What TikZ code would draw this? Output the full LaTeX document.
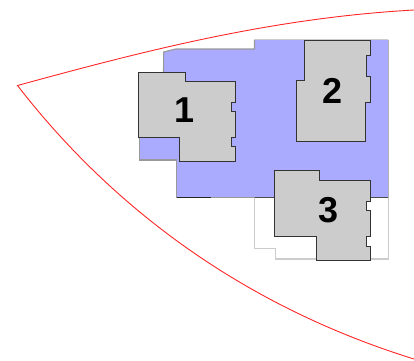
\documentclass[tikz,border=0pt]{standalone}
\usepackage{fontspec}
\setmainfont{Liberation Sans}
\definecolor{plotblue}{HTML}{AAAAFF}
\definecolor{blockgrey}{HTML}{CCCCCC}
\tikzset{bld/.append style={fill=blockgrey,draw=black!80,line width=1pt}}
\tikzset{num/.append style={font=\fontsize{36}{36}\selectfont\bfseries,inner sep=0pt}}
\tikzset{edgeg/.append style={line width=1.1pt,draw=black!40}}
\tikzset{edgel/.append style={line width=1.1pt,draw=black!20}}
\tikzset{bound/.append style={draw=red!85!white,line width=0.9pt}}
\begin{document}
\begin{tikzpicture}[x=1pt,y=-1pt]
                \useasboundingbox (0,0) rectangle (414,360);
                % plots
                \fill[plotblue] (163.5,72) -- (163.7,52) -- (175.7,49) -- (254.5,49) -- (254.5,39.7) -- (388.3,39.7) -- (388.3,197.7) -- (176.7,197.7) -- (176.7,160) -- (139.7,160) -- (139.7,137) -- cycle;
                \draw[edgel] (254.7,197.7) -- (254.7,248.3) -- (275.3,248.3) -- (275.3,259) -- (388.3,259) -- (388.3,197.7);
                \draw[edgeg] (163.5,72) -- (163.7,52) -- (175.7,49) -- (254.5,49) -- (254.5,39.7);
                \draw[edgel] (254.5,39.7) -- (388.3,39.7);
                \draw[edgeg,draw=black!30] (388.3,39.7) -- (388.3,197.7);
                \draw[edgeg] (139.7,137) -- (139.7,160) -- (176.7,160) -- (176.7,197.7);
                \draw[edgeg] (211,197.7) -- (254.7,197.7);
                \draw[line width=0.9pt,black!85] (176.7,197.7) -- (211,197.7);
                \draw[line width=0.9pt,black!70] (254.7,197.7) -- (274.3,197.7);
                \draw[line width=0.9pt,black!70] (370.3,197.7) -- (388.3,197.7);
                % buildings
                \draw[bld] (138.3,72.3) -- (185,72.3) -- (185,81) -- (235.7,81) -- (235.7,102) -- (231.7,102) -- (231.7,111.7) -- (235.7,111.7) -- (235.7,137.3) -- (231.7,137.3) -- (231.7,146.7) -- (235.7,146.7) -- (235.7,161.3) -- (179.7,161.3) -- (179.7,137.3) -- (138.3,137.3) -- cycle;
                \draw[bld] (304.3,40.3) -- (370.3,40.3) -- (370.3,55.7) -- (366.7,55.7) -- (366.7,76) -- (370.3,76) -- (370.3,102) -- (365.7,102) -- (365.7,141.3) -- (296.7,141.3) -- (296.7,80) -- (304.3,80) -- cycle;
                \draw[bld] (274.3,170.7) -- (319.3,170.7) -- (319.3,180.3) -- (370.3,180.3) -- (370.3,201) -- (366.7,201) -- (366.7,210) -- (370.3,210) -- (370.3,236.7) -- (366.7,236.7) -- (366.7,246) -- (370.3,246) -- (370.3,260) -- (316.7,260) -- (316.7,236.7) -- (274.3,236.7) -- cycle;
                \node[num] (one) at (185,110.5) {1};
                \node[num] (two) at (333,91) {2};
                \node[num] (three) at (328.5,210) {3};
                % red boundary
                \draw[bound] (414,10) .. controls (270,18) and (140,52) .. (17.5,85.5) .. controls (110,205) and (240,305) .. (414,359);
            \end{tikzpicture}
\end{document}
